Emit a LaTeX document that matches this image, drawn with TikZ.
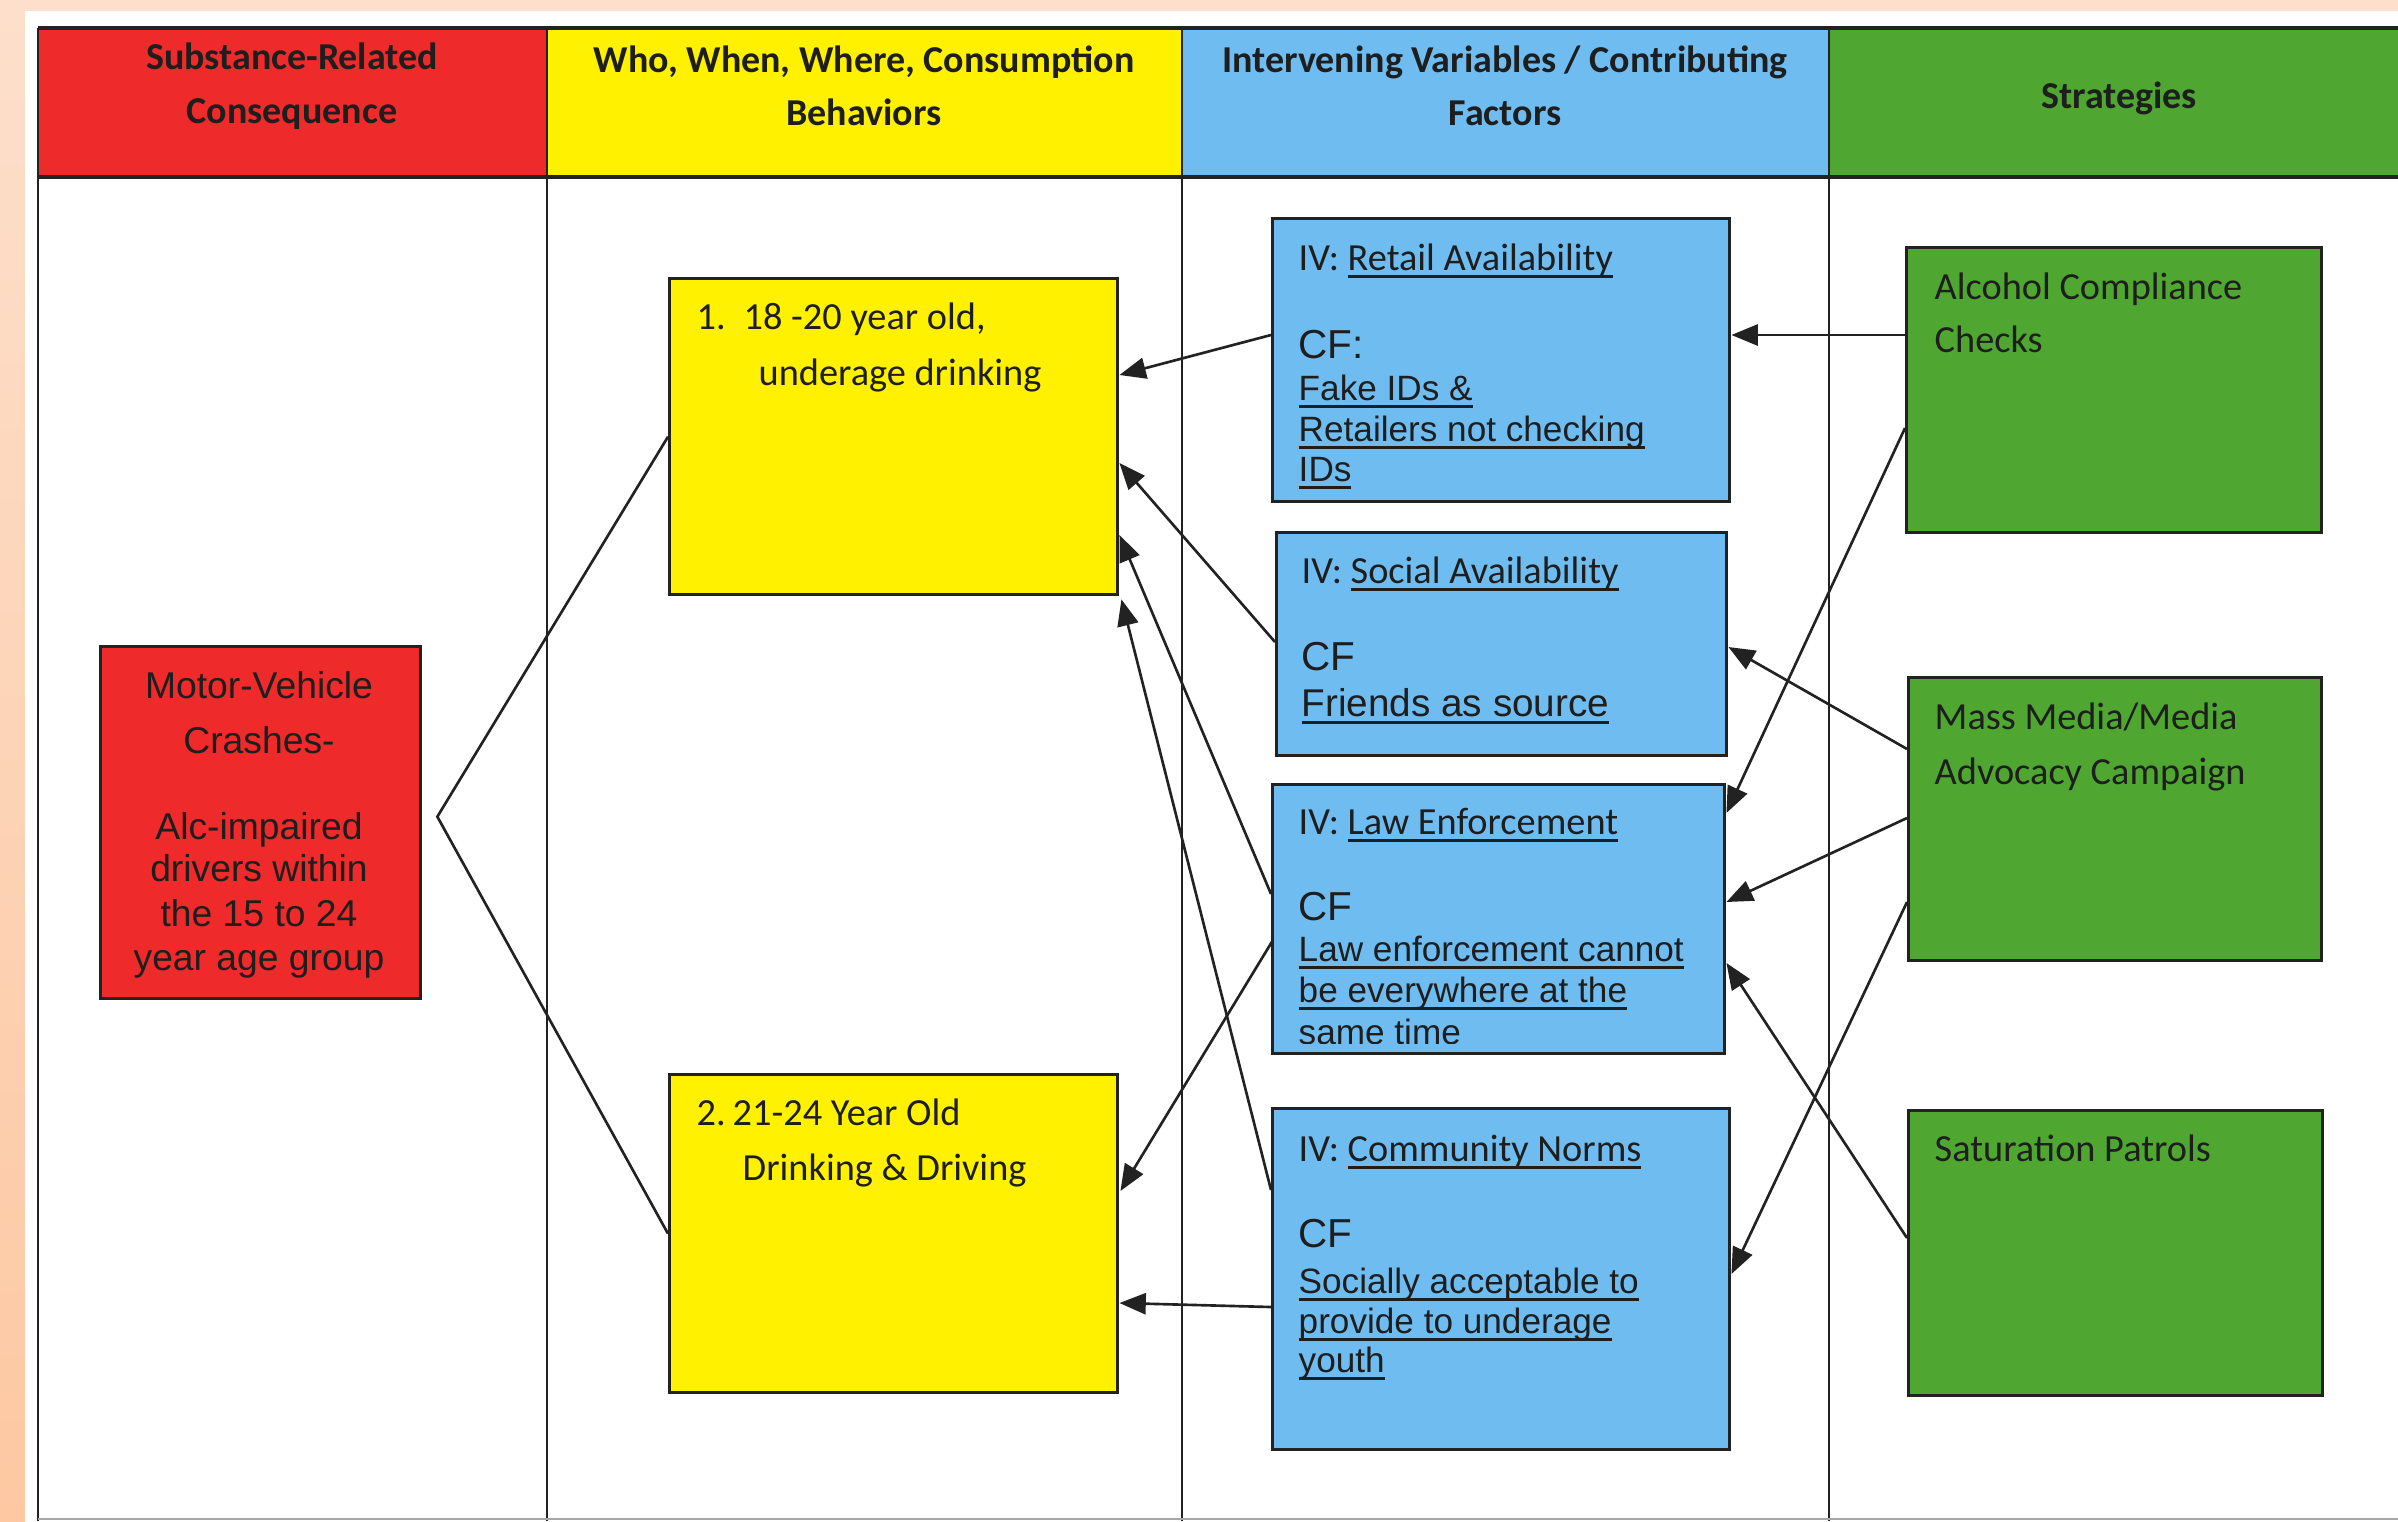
\documentclass[tikz,border=0pt]{standalone}
\usepackage{fontspec}
\setmainfont{Liberation Sans}
\newfontfamily\calfont{Carlito}
\newcommand\mytul[1]{\setbox0\hbox{#1}\leavevmode\rlap{\rule[-2.3pt]{\wd0}{0.8pt}}\box0}
\usetikzlibrary{arrows.meta,calc}
\definecolor{peachtop}{HTML}{FDDFCB}
\definecolor{peachbot}{HTML}{FDC8A2}
\definecolor{redc}{HTML}{EE2A2B}
\definecolor{yellowc}{HTML}{FFF100}
\definecolor{bluec}{HTML}{6FBCF0}
\definecolor{greenc}{HTML}{4FA631}
\definecolor{ink}{HTML}{1E1E1E}
\definecolor{linec}{HTML}{222222}
\begin{document}
\begin{tikzpicture}[x=0.01cm,y=-0.01cm,
  box/.style={draw=linec,line width=0.9pt,inner sep=0pt,anchor=north west},
  hdr/.style={align=center,text=ink,font=\calfont\bfseries\fontsize{10.8}{15.2}\selectfont},
  rtxt/.style={anchor=base,inner sep=0pt,text=ink,font=\fontsize{10.6}{12}\selectfont},
  ctxt/.style={anchor=base west,inner sep=0pt,text=ink,font=\calfont\fontsize{10.9}{13}\selectfont},
  atxt/.style={anchor=base west,inner sep=0pt,text=ink,font=\fontsize{10}{12}\selectfont},
  cftxt/.style={anchor=base west,inner sep=0pt,text=ink,font=\fontsize{11.5}{13}\selectfont},
  conn/.style={draw=linec,line width=0.75pt},
  arr/.style={draw=linec,line width=0.75pt,-{Triangle[length=7.5pt,width=6pt]}}]
\useasboundingbox (0,0) rectangle (2398,1521);
% page background
\fill[peachtop] (0,0) rectangle (2398,1521);
\shade[top color=peachtop,bottom color=peachbot] (0,0) rectangle (25,1521);
\fill[white] (25,11) rectangle (2398,1521);
% header fills
\fill[redc] (38,28) rectangle (547,177);
\fill[yellowc] (547,28) rectangle (1182,177);
\fill[bluec] (1182,28) rectangle (1829,177);
\fill[greenc] (1829,28) rectangle (2398,177);
% table lines
\draw[linec,line width=1.2pt] (38,28) -- (2398,28);
\draw[linec,line width=1.2pt] (38,177) -- (2398,177);
\draw[linec,line width=0.8pt] (38,28) -- (38,1521);
\foreach \xx in {547,1182,1829} \draw[linec,line width=0.6pt] (\xx,28) -- (\xx,1521);
\draw[gray!70,line width=0.5pt] (38,1519) -- (2398,1519);
% header texts
\node[hdr] (h1) at (292,86) {Substance-Related\\Consequence};
\node[hdr] (h2) at (864,86) {Who, When, Where, Consumption\\Behaviors};
\node[hdr] (h3) at (1505,86) {Intervening Variables / Contributing\\Factors};
\node[hdr] (h4) at (2119,98) {Strategies};
% boxes
\node[box,fill=redc,minimum width=3.20cm,minimum height=3.52cm] (red) at (99,645) {};
\node[box,fill=yellowc,minimum width=4.48cm,minimum height=3.16cm] (y1) at (668,277) {};
\node[box,fill=yellowc,minimum width=4.48cm,minimum height=3.18cm] (y2) at (668,1073) {};
\node[box,fill=bluec,minimum width=4.57cm,minimum height=2.83cm] (b1) at (1271,217) {};
\node[box,fill=bluec,minimum width=4.50cm,minimum height=2.23cm] (b2) at (1275,531) {};
\node[box,fill=bluec,minimum width=4.52cm,minimum height=2.69cm] (b3) at (1271,783) {};
\node[box,fill=bluec,minimum width=4.57cm,minimum height=3.41cm] (b4) at (1271,1107) {};
\node[box,fill=greenc,minimum width=4.15cm,minimum height=2.85cm] (g1) at (1905,246) {};
\node[box,fill=greenc,minimum width=4.13cm,minimum height=2.83cm] (g2) at (1907,676) {};
\node[box,fill=greenc,minimum width=4.14cm,minimum height=2.85cm] (g3) at (1907,1109) {};
% red text
\foreach \t/\yy [count=\i] in {Motor-Vehicle/698,Crashes-/753,Alc-impaired/839,drivers within/881,the 15 to 24/926,year age group/970}
  \node[rtxt] (rt\i) at (259,\yy) {\t};
% yellow text
\node[ctxt] (y1a) at (696,329) {1.};
\node[ctxt] (y1b) at (743,329) {18 -20 year old,};
\node[ctxt] (y1c) at (758,385) {underage drinking};
\node[ctxt] (y2a) at (696,1125) {2.};
\node[ctxt] (y2b) at (732,1125) {21-24 Year Old};
\node[ctxt] (y2c) at (742,1180) {Drinking \& Driving};
% green text
\node[ctxt] (g1a) at (1934,299) {Alcohol Compliance};
\node[ctxt] (g1b) at (1934,352) {Checks};
\node[ctxt] (g2a) at (1934,729) {Mass Media/Media};
\node[ctxt] (g2b) at (1934,784) {Advocacy Campaign};
\node[ctxt] (g3a) at (1934,1161) {Saturation Patrols};
% blue box 1
\node[ctxt] (b1a) at (1298,270) {IV: \mytul{Retail Availability}};
\node[cftxt] (b1b) at (1298,358) {CF:};
\node[atxt] (b1c) at (1298,400) {\mytul{Fake IDs \&}};
\node[atxt] (b1d) at (1298,441) {\mytul{Retailers not checking}};
\node[atxt] (b1e) at (1298,481) {\mytul{IDs}};
% blue box 2
\node[ctxt] (b2a) at (1301,583) {IV: \mytul{Social Availability}};
\node[cftxt] (b2b) at (1301,670) {CF};
\node[atxt,font=\fontsize{11}{13}\selectfont] (b2c) at (1301,716) {\mytul{Friends as source}};
% blue box 3
\node[ctxt] (b3a) at (1298,834) {IV: \mytul{Law Enforcement}};
\node[cftxt] (b3b) at (1298,920) {CF};
\node[atxt] (b3c) at (1298,961) {\mytul{Law enforcement cannot}};
\node[atxt] (b3d) at (1298,1002) {\mytul{be everywhere at the}};
\begin{scope}
  \clip (b3.north west) rectangle ($(b3.south east)+(0,-12)$);
  \node[atxt] (b3e) at (1298,1044) {same time};
\end{scope}
% blue box 4
\node[ctxt] (b4a) at (1298,1161) {IV: \mytul{Community Norms}};
\node[cftxt] (b4b) at (1298,1247) {CF};
\node[atxt] (b4c) at (1298,1293) {\mytul{Socially acceptable to}};
\node[atxt] (b4d) at (1298,1333) {\mytul{provide to underage}};
\node[atxt] (b4e) at (1298,1372) {\mytul{youth}};
% fan from consequence to behaviours
\coordinate (fan) at ($(red.east)+(15,-6)$);
\draw[conn] (y1.west) -- (fan) -- (y2.west);
% factors to behaviours
\draw[arr] ($(b1.north west)+(0,118)$) -- ($(y1.north east)+(0,98)$);
\draw[arr] ($(b2.north west)+(0,111)$) -- ($(y1.north east)+(0,186)$);
\draw[arr] ($(b3.north west)+(0,111)$) -- ($(y1.north east)+(0,258)$);
\draw[arr] ($(b4.north west)+(0,83)$) -- ($(y1.south east)+(2,3)$);
\draw[arr] ($(b3.north west)+(2,157)$) -- ($(y2.north east)+(1,118)$);
\draw[arr] ($(b4.north west)+(0,200)$) -- ($(y2.north east)+(0,230)$);
% strategies to factors
\draw[arr] ($(g1.north west)+(0,89)$) -- ($(b1.north east)+(0,118)$);
\draw[arr] ($(g1.north west)+(0,182)$) -- ($(b3.north east)+(0,30)$);
\draw[arr] ($(g2.north west)+(0,73)$) -- ($(b2.north east)+(0,116)$);
\draw[arr] ($(g2.north west)+(0,142)$) -- ($(b3.north east)+(0,119)$);
\draw[arr] ($(g2.north west)+(0,226)$) -- ($(b4.north east)+(0,167)$);
\draw[arr] ($(g3.north west)+(0,129)$) -- ($(b3.north east)+(0,180)$);
\end{tikzpicture}
\end{document}
